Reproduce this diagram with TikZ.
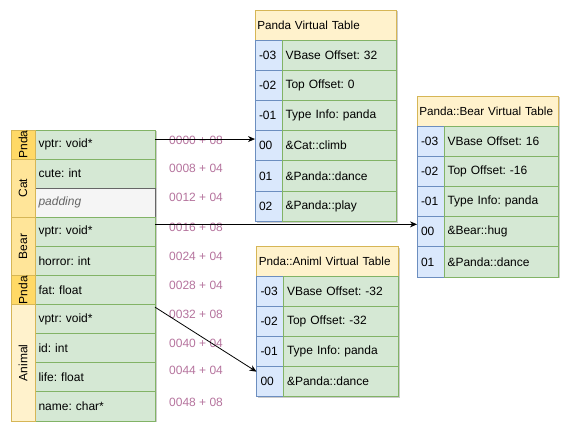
\documentclass[tikz,border=0pt]{standalone}
\usepackage{fontspec}
\setmainfont{Liberation Sans}
\usetikzlibrary{arrows.meta, positioning, calc, shadows}

\definecolor{fieldfill}{HTML}{D5E8D4}
\definecolor{fieldline}{HTML}{82B366}
\definecolor{padfill}{HTML}{F5F5F5}
\definecolor{padline}{HTML}{666666}
\definecolor{idxfill}{HTML}{DAE8FC}
\definecolor{idxline}{HTML}{6C8EBF}
\definecolor{headfill}{HTML}{FFF2CC}
\definecolor{headline}{HTML}{D6B656}
\definecolor{pndafill}{HTML}{FFD966}
\definecolor{catfill}{HTML}{FFE599}
\definecolor{offtext}{HTML}{B5739D}

\begin{document}
\frenchspacing
\begin{tikzpicture}[x=1pt, y=-1pt, node distance=0pt, font=\fontsize{12}{14}\selectfont,
    box/.style={draw, outer sep=0pt, line width=0.9pt},
    shade/.style={drop shadow={shadow xshift=1.5pt, shadow yshift=-1.5pt, opacity=0.2, fill=black}},
    field/.style={box, shade, draw=fieldline, fill=fieldfill, minimum height=29.1pt, text width=113pt, inner xsep=3.5pt, align=left},
    pad/.style={field, draw=padline, fill=padfill, text=padline, font=\fontsize{12}{14}\selectfont\itshape},
    tag/.style={box, draw=headline, rotate=90, minimum height=24pt, inner sep=0pt},
    hdr/.style={box, shade, draw=headline, fill=headfill, minimum height=30pt, text width=137pt, inner xsep=2.25pt, align=left, font=\fontsize{11.7}{14}\selectfont},
    idx/.style={box, shade, draw=idxline, fill=idxfill, minimum height=30.2pt, text width=19pt, inner xsep=4pt, align=left},
    slot/.style={box, shade, draw=fieldline, fill=fieldfill, minimum height=30.2pt, text width=107.5pt, inner xsep=3.5pt, align=left},
    offs/.style={text=offtext, inner sep=0pt},
    ptr/.style={-{Stealth[length=7pt, width=6pt]}, line width=0.8pt}]
\useasboundingbox (0,0) rectangle (579,443);

% Object layout
\node[field, anchor=north west] (f1) at (35,130) {vptr: void*};
\node[field, below=of f1] (f2) {cute: int};
\node[pad, below=of f2] (f3) {padding};
\node[field, below=of f3] (f4) {vptr: void*};
\node[field, below=of f4] (f5) {horror: int};
\node[field, below=of f5] (f6) {fat: float};
\node[field, below=of f6] (f7) {vptr: void*};
\node[field, below=of f7] (f8) {id: int};
\node[field, below=of f8] (f9) {life: float};
\node[field, below=of f9] (f10) {name: char*};

% Class tags
\node[tag, fill=pndafill, minimum width=29.1pt] (tpnda) at ($(f1.west)+(-12pt,0pt)$) {Pnda};
\node[tag, fill=catfill, minimum width=58.2pt] (tcat) at ($(f2.north west)!0.5!(f3.south west)+(-12pt,0pt)$) {Cat};
\node[tag, fill=catfill, minimum width=58.2pt] (tbear) at ($(f4.north west)!0.5!(f5.south west)+(-12pt,0pt)$) {Bear};
\node[tag, fill=pndafill, minimum width=29.1pt] (tpnda2) at ($(f6.west)+(-12pt,0pt)$) {Pnda};
\node[tag, fill=headfill, minimum width=116.4pt] (tanim) at ($(f7.north west)!0.5!(f10.south west)+(-12pt,0pt)$) {Animal};

% Offsets
\node[offs, right=14pt of f1.north east, yshift=-10pt] (o1) {0000 + 08};
\node[offs, right=14pt of f2.north east, yshift=-9pt] (o2) {0008 + 04};
\node[offs, right=14pt of f3.north east, yshift=-9.5pt] (o3) {0012 + 04};
\node[offs, right=14pt of f4.north east, yshift=-10pt] (o4) {0016 + 08};
\node[offs, right=14pt of f5.north east, yshift=-10pt] (o5) {0024 + 04};
\node[offs, right=14pt of f6.north east, yshift=-9.5pt] (o6) {0028 + 04};
\node[offs, right=14pt of f7.north east, yshift=-10pt] (o7) {0032 + 08};
\node[offs, right=14pt of f8.north east, yshift=-9.5pt] (o8) {0040 + 04};
\node[offs, right=14pt of f9.north east, yshift=-8pt] (o9) {0044 + 04};
\node[offs, right=14pt of f10.north east, yshift=-10pt] (o10) {0048 + 08};

% Panda Virtual Table
\node[hdr, anchor=north west] (ph) at (255,10) {Panda Virtual Table};
\node[idx, below=of ph.south west, anchor=north west] (pi1) {-03};
\node[slot, right=of pi1] (ps1) {VBase Offset: 32};
\node[idx, below=of pi1] (pi2) {-02};
\node[slot, right=of pi2] (ps2) {Top Offset: 0};
\node[idx, below=of pi2] (pi3) {-01};
\node[slot, right=of pi3] (ps3) {Type Info: panda};
\node[idx, below=of pi3] (pi4) {00};
\node[slot, right=of pi4] (ps4) {\&Cat::climb};
\node[idx, below=of pi4] (pi5) {01};
\node[slot, right=of pi5] (ps5) {\&Panda::dance};
\node[idx, below=of pi5] (pi6) {02};
\node[slot, right=of pi6] (ps6) {\&Panda::play};

% Panda::Bear Virtual Table
\node[hdr, anchor=north west] (bh) at (417,96) {Panda::Bear Virtual Table};
\node[idx, below=of bh.south west, anchor=north west] (bi1) {-03};
\node[slot, right=of bi1] (bs1) {VBase Offset: 16};
\node[idx, below=of bi1] (bi2) {-02};
\node[slot, right=of bi2] (bs2) {Top Offset: -16};
\node[idx, below=of bi2] (bi3) {-01};
\node[slot, right=of bi3] (bs3) {Type Info: panda};
\node[idx, below=of bi3] (bi4) {00};
\node[slot, right=of bi4] (bs4) {\&Bear::hug};
\node[idx, below=of bi4] (bi5) {01};
\node[slot, right=of bi5] (bs5) {\&Panda::dance};

% Pnda::Animl Virtual Table
\node[hdr, anchor=north west] (ah) at (256.5,246.7) {Pnda::Animl Virtual Table};
\node[idx, minimum height=30pt, below=of ah.south west, anchor=north west] (ai1) {-03};
\node[slot, minimum height=30pt, right=of ai1] (as1) {VBase Offset: -32};
\node[idx, minimum height=30pt, below=of ai1] (ai2) {-02};
\node[slot, minimum height=30pt, right=of ai2] (as2) {Top Offset: -32};
\node[idx, minimum height=30pt, below=of ai2] (ai3) {-01};
\node[slot, minimum height=30pt, right=of ai3] (as3) {Type Info: panda};
\node[idx, minimum height=30pt, below=of ai3] (ai4) {00};
\node[slot, minimum height=30pt, right=of ai4] (as4) {\&Panda::dance};

% Pointers
\draw[ptr] ([yshift=5.5pt]f1.east) -- ([yshift=5.5pt]f1.east -| pi4.west);
\draw[ptr] ([yshift=7.5pt]f4.east) -- ([yshift=7.5pt]f4.east -| bi4.west);
\draw[ptr] ([yshift=12pt]f7.east) -- ([yshift=10pt]ai4.west);
\end{tikzpicture}
\end{document}
